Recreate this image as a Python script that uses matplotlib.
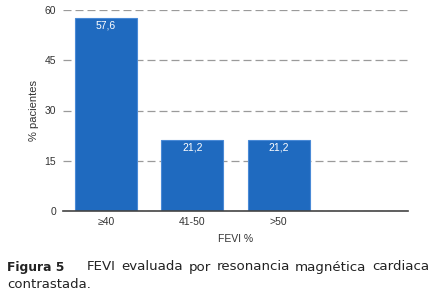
import matplotlib.pyplot as plt

plt.rcParams['font.family'] = ['Liberation Sans', 'DejaVu Sans']

categories = ['≥40', '41-50', '>50', '']
values = [57.6, 21.2, 21.2, 0]
labels = ['57,6', '21,2', '21,2', '']
caption_words = ['FEVI', 'evaluada', 'por', 'resonancia', 'magnética', 'cardiaca']

fig = plt.figure(figsize=(4.4, 2.99), dpi=100)
ax = fig.add_axes([63/440, 1 - 211/299, 345/440, 201/299])

x = range(len(categories))
bars = ax.bar(x[:3], values[:3], width=0.72, color='#1f6abf',
              edgecolor='#4a8ad6', linewidth=0.8, zorder=3)
for b, lab in zip(bars, labels):
    ax.text(b.get_x() + b.get_width()/2, b.get_height() - 0.8, lab,
            ha='center', va='top', color='white', fontsize=7.5, zorder=4)

ax.set_xlim(-0.5, 3.5)
ax.set_ylim(0, 60)
ax.set_yticks([0, 15, 30, 45, 60])
ax.set_xticks(list(x))
ax.set_xticklabels(categories)
ax.yaxis.grid(True, color='#9a9a9a', linestyle=(0, (6.4, 3.2)), linewidth=0.9, zorder=0)
for s in ['left', 'right', 'top']:
    ax.spines[s].set_visible(False)
ax.spines['bottom'].set_color('#444444')
ax.spines['bottom'].set_linewidth(1.2)
ax.spines['bottom'].set_zorder(5)
ax.tick_params(axis='both', length=0, labelsize=7.5, labelcolor='#333333')
ax.tick_params(axis='y', pad=5)
ax.tick_params(axis='x', pad=4)
ax.set_ylabel('% pacientes', fontsize=8, color='#333333', labelpad=4)
ax.set_xlabel('FEVI %', fontsize=7.5, color='#333333', labelpad=5)

# caption, first line justified
cap_kw = dict(family='DejaVu Sans', va='center', color='#222222')
y1 = 1 - 267/299
fig.text(7/440, y1, 'Figura 5', fontsize=8.9, fontweight='bold', ha='left', **cap_kw)
renderer = fig.canvas.get_renderer()
texts = [fig.text(0, y1, w, ha='left', fontsize=9.6, **cap_kw) for w in caption_words]
widths = [t.get_window_extent(renderer).width for t in texts]
x0, x1 = 87, 429
gap = (x1 - x0 - sum(widths)) / (len(texts) - 1)
pos = x0
for t, w in zip(texts, widths):
    t.set_x(pos/440)
    pos += w + gap
fig.text(7/440, 1 - 285/299, 'contrastada.', ha='left', fontsize=9.5, **cap_kw)

fig.savefig('out.png', dpi=100)
